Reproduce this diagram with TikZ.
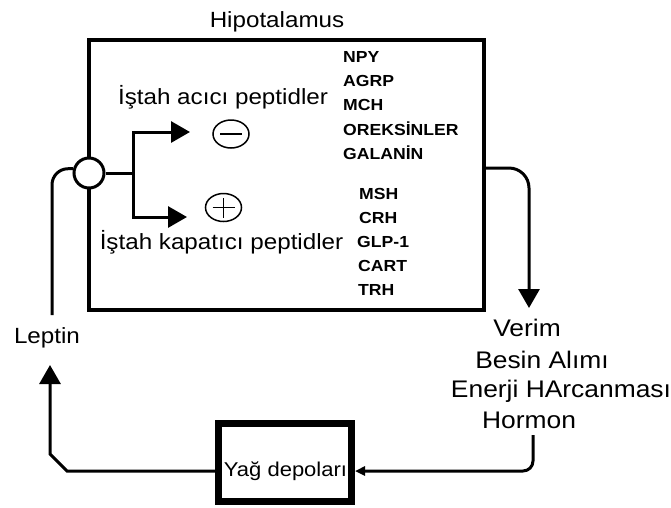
\documentclass[tikz,border=0pt]{standalone}
\usepackage{fontspec}
\setmainfont{Liberation Sans}[FakeStretch=1.1]
\usepackage{tikz}
\usetikzlibrary{
	arrows.meta,
	shapes.geometric,
	positioning
}

\begin{document}
\begin{tikzpicture}[x=1pt, y=-1pt,
		conn/.style={line width=3pt},
		arr/.style={conn, -{Triangle[length=19pt, width=21pt]}},
		arrsmall/.style={conn, -{Triangle[length=10pt, width=9pt]}},
		txt/.style={font=\fontsize{22}{26}\selectfont, inner sep=0pt},
		rtxt/.style={font=\fontsize{24}{28}\selectfont, inner sep=0pt},
		lbl/.style={font=\fontsize{16}{18}\selectfont\bfseries, inner sep=0pt, anchor=west},
		hypbox/.style={draw, line width=4pt, minimum width=395pt, minimum height=270pt, inner sep=0pt},
		fatbox/.style={draw, line width=7pt, minimum width=133pt, minimum height=78pt, inner sep=0pt},
		switch/.style={draw, circle, fill=white, line width=3pt, minimum size=30pt, inner sep=0pt},
		sign/.style={draw, ellipse, line width=1.5pt, minimum width=36pt, minimum height=28pt, inner sep=0pt}]
				\useasboundingbox (0,0) rectangle (671,507);
				\coordinate (fork) at (133,173);
				\coordinate (tipA) at (190,132);
				\coordinate (tipB) at (187,217);
				\coordinate (lepup) at (52,315);
				\coordinate (leptip) at (50,365);
				\coordinate (outtip) at (529,308);
				\coordinate (hormdown) at (533,435);
				\node[hypbox] (hyp) at (286.5,175) {};
				\node[txt] (hname) at (277,22) {Hipotalamus};
				\node[switch] (sw) at (89,173) {};
				\node[txt] (acici) at (223,97) {İştah acıcı peptidler};
				\node[txt] (kapatici) at (221.5,242) {İştah kapatıcı peptidler};
				\node[sign] (minus) at (231,134) {};
				\node[sign] (plus) at (223.5,207.5) {};
				\draw[line width=1.5pt] ([xshift=-11pt]minus.center) -- ([xshift=11pt]minus.center);
				\draw[line width=1.5pt] ([xshift=-11pt]plus.center) -- ([xshift=11pt]plus.center);
				\draw[line width=1.5pt] ([yshift=-10pt]plus.center) -- ([yshift=10pt]plus.center);
				\node[lbl] (npy) at (343,57) {NPY};
				\node[lbl] (agrp) at (343,81) {AGRP};
				\node[lbl] (mch) at (343,105) {MCH};
				\node[lbl] (oreks) at (343,129) {OREKSİNLER};
				\node[lbl] (galanin) at (343,153) {GALANİN};
				\node[lbl] (msh) at (359,194) {MSH};
				\node[lbl] (crh) at (359,218) {CRH};
				\node[lbl] (glp) at (357,242) {GLP-1};
				\node[lbl] (cart) at (358,266) {CART};
				\node[lbl] (trh) at (358,290) {TRH};
				\node[txt] (leptin) at (47,338) {Leptin};
				\node[rtxt] (verim) at (527,328) {Verim};
				\node[rtxt] (besin) at (542,360) {Besin Alımı};
				\node[rtxt] (enerji) at (561,391) {Enerji HArcanması};
				\node[rtxt] (hormon) at (529,420) {Hormon};
				\node[fatbox] (yag) at (285,462.5) {};
				\node[txt, font=\fontsize{20}{24}\selectfont] (yagtxt) at (285.5,471) {Yağ depoları};
				\draw[conn, rounded corners=16pt] (lepup) |- (sw.165);
				\draw[conn] (sw.east) -- (fork);
				\draw[arr] (fork) |- (tipA);
				\draw[arr] (fork) |- (tipB);
				\draw[arr, rounded corners=20pt] ([yshift=7pt]hyp.east) -| (outtip);
				\draw[arrsmall, rounded corners=10pt] (hormdown) |- (yag.east |- yagtxt);
				\draw[arr] (yag.west |- yagtxt) -- ++(-148,0) -- ++(-17,-17) -- (leptip);
			\end{tikzpicture}
\end{document}
